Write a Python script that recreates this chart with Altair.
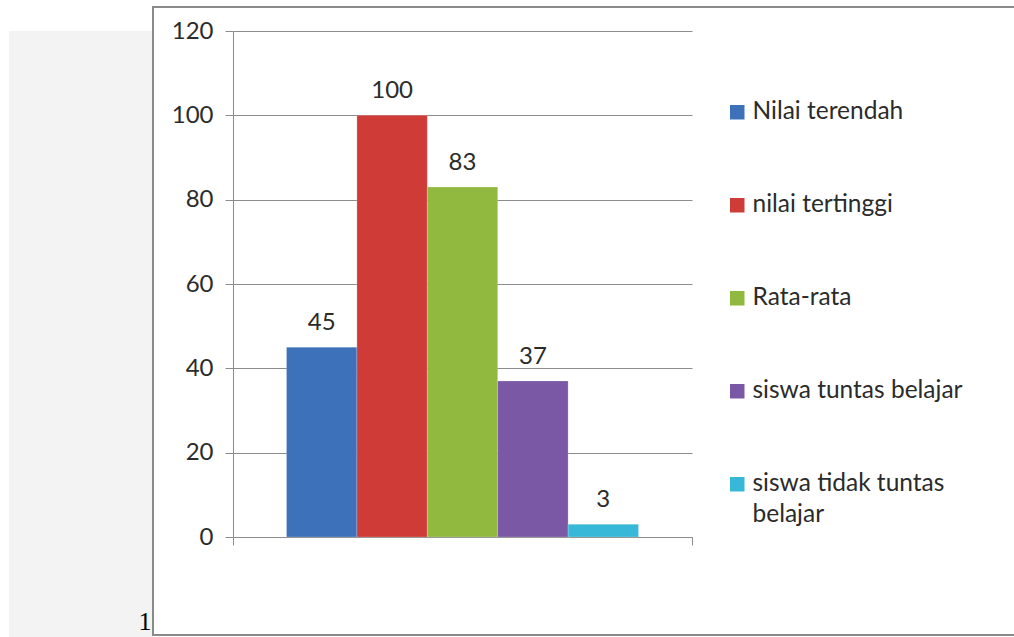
import altair as alt
import pandas as pd

categories = ["Nilai terendah", "nilai tertinggi", "Rata-rata",
              "siswa tuntas belajar", "siswa tidak tuntas belajar"]
values = [45, 100, 83, 37, 3]
colors = ["#3d72bb", "#cf3c38", "#92b93f", "#7a58a5", "#38b8d8"]
y_ticks = [0, 20, 40, 60, 80, 100, 120]
group = ["1"] * len(categories)

FONT = "Lato"
TEXT_COLOR = "#2b2b2b"
LINE_COLOR = "#8c8c8c"
FRAME_COLOR = "#8a8a8a"

df = pd.DataFrame({"grup": group, "kategori": categories, "nilai": values})
one = pd.DataFrame({"a": [0]})

x_grp = alt.X("grup:N", scale=alt.Scale(paddingInner=0, paddingOuter=0),
              axis=alt.Axis(title=None, labels=False, tickBand="extent", grid=False,
                            domainColor=LINE_COLOR, tickColor=LINE_COLOR, tickSize=8))
x_off = alt.XOffset("kategori:N", sort=categories,
                    scale=alt.Scale(paddingInner=0, paddingOuter=0.76))
y_enc = alt.Y("nilai:Q", scale=alt.Scale(domain=[0, 120], nice=False),
              axis=alt.Axis(values=y_ticks, title=None, grid=True,
                            gridColor=LINE_COLOR, domainColor=LINE_COLOR,
                            tickColor=LINE_COLOR, tickSize=8,
                            labelFontSize=24, labelFont=FONT,
                            labelColor=TEXT_COLOR, labelPadding=12))

# decorations: grey side panel and chart frame (top, left, bottom edges)
panel = alt.Chart(one).mark_rect(fill="#f3f3f3").encode(
    x=alt.value(-224), x2=alt.value(-80), y=alt.value(0), y2=alt.value(606))
frame_top = alt.Chart(one).mark_rule(stroke=FRAME_COLOR, strokeWidth=2).encode(
    x=alt.value(-80), x2=alt.value(781), y=alt.value(-24))
frame_left = alt.Chart(one).mark_rule(stroke=FRAME_COLOR, strokeWidth=2).encode(
    x=alt.value(-80), y=alt.value(-25), y2=alt.value(605))
frame_bottom = alt.Chart(one).mark_rule(stroke=FRAME_COLOR, strokeWidth=2).encode(
    x=alt.value(-80), x2=alt.value(781), y=alt.value(604))
page_num = alt.Chart(one).mark_text(font="Liberation Serif", fontSize=26,
                                    baseline="bottom", color="black").encode(
    x=alt.value(-88), y=alt.value(604), text=alt.value("1"))

bars = alt.Chart(df).mark_bar(stroke="#ffffff", strokeWidth=0.5, strokeOpacity=0.4).encode(
    x=x_grp,
    xOffset=x_off,
    y=y_enc,
    color=alt.Color("kategori:N", sort=categories,
                    scale=alt.Scale(domain=categories, range=colors),
                    legend=alt.Legend(
                        title=None, orient="none", legendX=492, legendY=69,
                        symbolType="square", symbolSize=210, symbolStrokeWidth=0,
                        labelFont=FONT, labelFontSize=24.5, labelColor=TEXT_COLOR,
                        labelLimit=400, labelOffset=3, rowPadding=68,
                        labelExpr="datum.label == 'siswa tidak tuntas belajar' ? ['siswa tidak tuntas', 'belajar'] : datum.label",
                    )),
)

labels = alt.Chart(df).mark_text(dy=-12, baseline="bottom", fontSize=24,
                                 font=FONT, color=TEXT_COLOR).encode(
    x=x_grp, xOffset=x_off, y=alt.Y("nilai:Q"), text="nilai:Q")

chart = alt.layer(panel, frame_top, frame_left, frame_bottom, page_num, bars, labels).properties(
    width=459, height=506,
    autosize=alt.AutoSizeParams(type="none"),
    padding={"left": 233, "top": 31, "right": 322, "bottom": 100},
    background="white",
).configure(
    style={"guide-label": {"lineHeight": 31}}
).configure_view(strokeWidth=0, stroke="transparent")

chart.save("out.html", embed_options={"renderer": "svg", "actions": False})
